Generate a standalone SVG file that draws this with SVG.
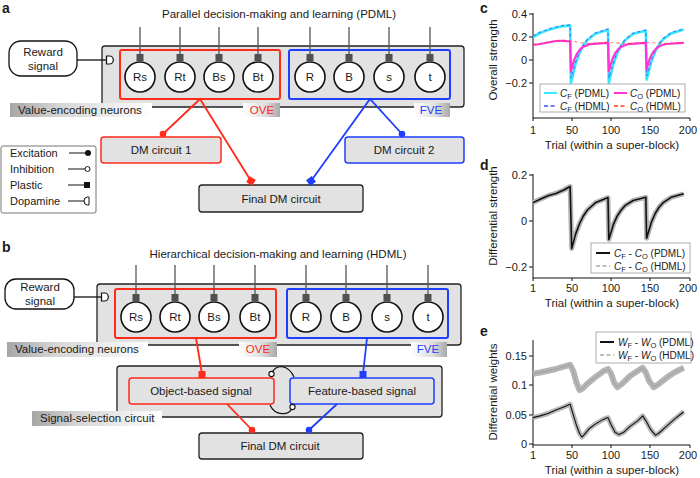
<svg xmlns="http://www.w3.org/2000/svg" width="700" height="478" viewBox="0 0 700 478">
<defs>
<style>
text{font-family:"Liberation Sans",Arial,sans-serif;fill:#1a1a1a}
.t{font-size:11.5px}
.n{font-size:11.5px;text-anchor:middle}
.lt{font-size:11px}
.pl{font-size:14px;font-weight:bold}
.box{fill:#e2e2e2;stroke:#222;stroke-width:1.3}
.cir{fill:#fff;stroke:#111;stroke-width:1.6}
.stem{stroke:#555;stroke-width:1.3}
.sq{fill:#505050}
.red{fill:none;stroke:#ff2a1a;stroke-width:2}
.blue{fill:none;stroke:#1f3fff;stroke-width:2}
.rl{stroke:#ff2a1a;stroke-width:1.8;fill:none}
.bl{stroke:#1f3fff;stroke-width:1.8;fill:none}
.ax{stroke:#111;stroke-width:1;fill:none}
.tk{font-size:11px;text-anchor:end}
.tx{font-size:11px;text-anchor:middle}
.at{font-size:11.5px;text-anchor:middle}
.lg{fill:#fff;stroke:#999;stroke-width:0.8}
.lgt{font-size:10px}
</style>
<linearGradient id="gL" x1="0" x2="1" y1="0" y2="0"><stop offset="0" stop-color="#a6a6a6"/><stop offset="0.35" stop-color="#d6d6d6"/><stop offset="1" stop-color="#ffffff"/></linearGradient>
<linearGradient id="gR" x1="0" x2="1" y1="0" y2="0"><stop offset="0" stop-color="#ffffff"/><stop offset="0.6" stop-color="#dedede"/><stop offset="1" stop-color="#a8a8a8"/></linearGradient>
</defs>

<!-- Panel a -->
<text class="pl" x="2" y="13">a</text>
<text class="t" x="279" y="18" text-anchor="middle">Parallel decision-making and learning (PDML)</text>
<g id="a-reward">
<rect x="9" y="41" width="68" height="35" rx="12" fill="#fff" stroke="#111" stroke-width="1.3"/>
<text class="n" x="43" y="56">Reward</text>
<text class="n" x="43" y="70">signal</text>
</g>
<g id="a-value-neurons">
<rect class="box" x="102" y="46" width="362" height="61" rx="3"/>
<rect class="red" x="120" y="50" width="160" height="49" rx="2"/>
<rect class="blue" x="289" y="50" width="161" height="49" rx="2"/>
</g>
<g id="a-neurons">
<g id="a-Rs"><line class="stem" x1="140" y1="27" x2="140" y2="55"/><rect class="sq" x="136.5" y="54" width="7" height="7"/><circle class="cir" cx="140" cy="77" r="15"/><text class="n" x="140" y="81">Rs</text></g>
<g id="a-Rt"><line class="stem" x1="180" y1="27" x2="180" y2="55"/><rect class="sq" x="176.5" y="54" width="7" height="7"/><circle class="cir" cx="180" cy="77" r="15"/><text class="n" x="180" y="81">Rt</text></g>
<g id="a-Bs"><line class="stem" x1="219" y1="27" x2="219" y2="55"/><rect class="sq" x="215.5" y="54" width="7" height="7"/><circle class="cir" cx="219" cy="77" r="15"/><text class="n" x="219" y="81">Bs</text></g>
<g id="a-Bt"><line class="stem" x1="258" y1="27" x2="258" y2="55"/><rect class="sq" x="254.5" y="54" width="7" height="7"/><circle class="cir" cx="258" cy="77" r="15"/><text class="n" x="258" y="81">Bt</text></g>
<g id="a-R"><line class="stem" x1="310" y1="27" x2="310" y2="55"/><rect class="sq" x="306.5" y="54" width="7" height="7"/><circle class="cir" cx="310" cy="77" r="15"/><text class="n" x="310" y="81">R</text></g>
<g id="a-B"><line class="stem" x1="349" y1="27" x2="349" y2="55"/><rect class="sq" x="345.5" y="54" width="7" height="7"/><circle class="cir" cx="349" cy="77" r="15"/><text class="n" x="349" y="81">B</text></g>
<g id="a-s"><line class="stem" x1="389" y1="27" x2="389" y2="55"/><rect class="sq" x="385.5" y="54" width="7" height="7"/><circle class="cir" cx="389" cy="77" r="15"/><text class="n" x="389" y="81">s</text></g>
<g id="a-t"><line class="stem" x1="430" y1="27" x2="430" y2="55"/><rect class="sq" x="426.5" y="54" width="7" height="7"/><circle class="cir" cx="430" cy="77" r="15"/><text class="n" x="430" y="81">t</text></g>
</g>
<g id="a-labels">
<rect x="10" y="103" width="142" height="14" fill="url(#gL)"/>
<text class="t" x="18" y="114">Value-encoding neurons</text>
<rect x="243" y="103" width="37" height="14" fill="url(#gR)"/>
<text class="t" x="262" y="114" text-anchor="middle" style="fill:#ff2a1a">OVE</text>
<rect x="414" y="103" width="36" height="14" fill="url(#gR)"/>
<text class="t" x="431" y="114" text-anchor="middle" style="fill:#1f3fff">FVE</text>
</g>
<g id="a-dm1"><rect x="101" y="137" width="120" height="26" rx="3" fill="#e2e2e2" stroke="#ff2a1a" stroke-width="1.5"/><text class="n" x="161" y="154">DM circuit 1</text></g>
<g id="a-dm2"><rect x="345" y="137" width="119" height="26" rx="3" fill="#e2e2e2" stroke="#1f3fff" stroke-width="1.5"/><text class="n" x="404" y="154">DM circuit 2</text></g>
<g id="a-final"><rect class="box" x="199" y="185" width="164" height="27" rx="3" stroke-width="1.6"/><text class="n" x="281" y="203">Final DM circuit</text></g>
<g id="a-connectors">
<line x1="77" y1="60" x2="106" y2="60" stroke="#111" stroke-width="1.3"/>
<path d="M106.5 56 L109.5 56 A3.8 4 0 0 1 109.5 64 L106.5 64 Z" fill="#fff" stroke="#111" stroke-width="1.2"/>
<polyline class="rl" points="163,134 200,99 251,181"/>
<circle cx="163" cy="134" r="3.3" fill="#ff2a1a"/>
<rect x="-3.5" y="-3.5" width="7" height="7" fill="#ff2a1a" transform="translate(251,181) rotate(32)"/>
<polyline class="bl" points="402,134 370,99 311,181"/>
<circle cx="402" cy="134" r="3.3" fill="#1f3fff"/>
<rect x="-3.5" y="-3.5" width="7" height="7" fill="#1f3fff" transform="translate(311,181) rotate(-36)"/>
</g>
<g id="legend">
<rect x="1" y="146" width="95" height="67" rx="2" fill="#fff" stroke="#777" stroke-width="1"/>
<text class="lt" x="10" y="157">Excitation</text>
<text class="lt" x="10" y="173">Inhibition</text>
<text class="lt" x="10" y="189">Plastic</text>
<text class="lt" x="10" y="205">Dopamine</text>
<line x1="69" y1="153" x2="87" y2="153" stroke="#111" stroke-width="1"/><circle cx="88" cy="153" r="3" fill="#111"/>
<line x1="68" y1="169" x2="85" y2="169" stroke="#111" stroke-width="1"/><circle cx="87.5" cy="169" r="2.5" fill="#fff" stroke="#111" stroke-width="1"/>
<line x1="68" y1="185" x2="85" y2="185" stroke="#111" stroke-width="1"/><rect x="84" y="182" width="6" height="6" fill="#111"/>
<line x1="68" y1="201" x2="84" y2="201" stroke="#111" stroke-width="1"/>
<path d="M89 197 L87.5 197 A3.5 4 0 0 0 87.5 205 L89 205 Z" fill="#fff" stroke="#111" stroke-width="1"/>
</g>

<!-- Panel b -->
<text class="pl" x="2" y="252">b</text>
<text class="t" x="278" y="258" text-anchor="middle">Hierarchical decision-making and learning (HDML)</text>
<g id="b-reward">
<rect x="5" y="279" width="69" height="30" rx="11" fill="#fff" stroke="#111" stroke-width="1.3"/>
<text class="n" x="40" y="291">Reward</text>
<text class="n" x="40" y="305">signal</text>
</g>
<g id="b-value-neurons">
<rect class="box" x="97" y="284" width="364" height="61" rx="3"/>
<rect class="red" x="115" y="289" width="161" height="49" rx="2"/>
<rect class="blue" x="287" y="289" width="161" height="49" rx="2"/>
</g>
<g id="b-neurons">
<g id="b-Rs"><line class="stem" x1="136" y1="265" x2="136" y2="295"/><rect class="sq" x="132.5" y="294" width="7" height="7"/><circle class="cir" cx="136" cy="317" r="15"/><text class="n" x="136" y="321">Rs</text></g>
<g id="b-Rt"><line class="stem" x1="175" y1="265" x2="175" y2="295"/><rect class="sq" x="171.5" y="294" width="7" height="7"/><circle class="cir" cx="175" cy="317" r="15"/><text class="n" x="175" y="321">Rt</text></g>
<g id="b-Bs"><line class="stem" x1="214" y1="265" x2="214" y2="295"/><rect class="sq" x="210.5" y="294" width="7" height="7"/><circle class="cir" cx="214" cy="317" r="15"/><text class="n" x="214" y="321">Bs</text></g>
<g id="b-Bt"><line class="stem" x1="255" y1="265" x2="255" y2="295"/><rect class="sq" x="251.5" y="294" width="7" height="7"/><circle class="cir" cx="255" cy="317" r="15"/><text class="n" x="255" y="321">Bt</text></g>
<g id="b-R"><line class="stem" x1="306" y1="265" x2="306" y2="295"/><rect class="sq" x="302.5" y="294" width="7" height="7"/><circle class="cir" cx="306" cy="317" r="15"/><text class="n" x="306" y="321">R</text></g>
<g id="b-B"><line class="stem" x1="346" y1="265" x2="346" y2="295"/><rect class="sq" x="342.5" y="294" width="7" height="7"/><circle class="cir" cx="346" cy="317" r="15"/><text class="n" x="346" y="321">B</text></g>
<g id="b-s"><line class="stem" x1="387" y1="265" x2="387" y2="295"/><rect class="sq" x="383.5" y="294" width="7" height="7"/><circle class="cir" cx="387" cy="317" r="15"/><text class="n" x="387" y="321">s</text></g>
<g id="b-t"><line class="stem" x1="428" y1="265" x2="428" y2="295"/><rect class="sq" x="424.5" y="294" width="7" height="7"/><circle class="cir" cx="428" cy="317" r="15"/><text class="n" x="428" y="321">t</text></g>
</g>
<g id="b-labels">
<rect x="7" y="342" width="141" height="15" fill="url(#gL)"/>
<text class="t" x="15" y="353">Value-encoding neurons</text>
<rect x="239" y="342" width="38" height="15" fill="url(#gR)"/>
<text class="t" x="258" y="353" text-anchor="middle" style="fill:#ff2a1a">OVE</text>
<rect x="411" y="342" width="36" height="15" fill="url(#gR)"/>
<text class="t" x="428" y="353" text-anchor="middle" style="fill:#1f3fff">FVE</text>
</g>
<g id="b-selection">
<rect class="box" x="117" y="366" width="325" height="51" rx="3"/>
<rect x="32" y="411" width="130" height="15" fill="url(#gL)"/>
<text class="t" x="40" y="422">Signal-selection circuit</text>
</g>
<g id="b-object"><rect x="129" y="378" width="145" height="26" rx="3" fill="#e2e2e2" stroke="#ff2a1a" stroke-width="1.5"/><text class="n" x="201" y="395">Object-based signal</text></g>
<g id="b-feature"><rect x="290" y="378" width="144" height="26" rx="3" fill="#e2e2e2" stroke="#1f3fff" stroke-width="1.5"/><text class="n" x="362" y="395">Feature-based signal</text></g>
<g id="b-final"><rect class="box" x="199" y="433" width="164" height="26" rx="3" stroke-width="1.6"/><text class="n" x="280" y="450">Final DM circuit</text></g>
<g id="b-connectors">
<line x1="74" y1="297" x2="101" y2="297" stroke="#111" stroke-width="1.3"/>
<path d="M101.5 293 L104.5 293 A3.8 4 0 0 1 104.5 301 L101.5 301 Z" fill="#fff" stroke="#111" stroke-width="1.2"/>
<line class="rl" x1="196" y1="338" x2="202" y2="374"/>
<rect x="198.5" y="371" width="7" height="7" fill="#ff2a1a"/>
<line class="bl" x1="367" y1="338" x2="363" y2="374"/>
<rect x="359.5" y="371" width="7" height="7" fill="#1f3fff"/>
<path d="M272 373 C276 364 288 364 294 377" fill="none" stroke="#111" stroke-width="1.2"/>
<circle cx="271.5" cy="374" r="2.6" fill="#fff" stroke="#111" stroke-width="1.1"/>
<path d="M270 405 C275 416 289 416 292 408" fill="none" stroke="#111" stroke-width="1.2"/>
<circle cx="292.5" cy="407" r="2.6" fill="#fff" stroke="#111" stroke-width="1.1"/>
<line class="rl" x1="227" y1="404" x2="252" y2="430"/>
<circle cx="252" cy="430" r="3.3" fill="#ff2a1a"/>
<line class="bl" x1="337" y1="404" x2="309" y2="430"/>
<circle cx="309" cy="430" r="3.3" fill="#1f3fff"/>
</g>

<!-- Panel c -->
<g id="panel-c">
<text class="pl" x="480" y="13">c</text>
<path class="ax" d="M533 13 V118 H690"/>
<path class="ax" d="M529 14 H533 M529 37 H533 M529 60 H533 M529 83 H533 M533 118 V121 M572 118 V121 M611 118 V121 M650 118 V121 M690 118 V121"/>
<text class="tk" x="527" y="18">0.4</text>
<text class="tk" x="527" y="41">0.2</text>
<text class="tk" x="527" y="64">0</text>
<text class="tk" x="527" y="87">−0.2</text>
<text class="tx" x="533" y="134">1</text><text class="tx" x="572" y="134">50</text><text class="tx" x="611" y="134">100</text><text class="tx" x="650" y="134">150</text><text class="tx" x="688" y="134">200</text>
<text class="at" x="612" y="149">Trial (within a super-block)</text>
<text class="at" transform="translate(497,60) rotate(-90)">Overall strength</text>
<polyline fill="none" stroke="#33e8ff" stroke-width="2.6" stroke-linejoin="round" points="533,37 540.1,33 548,30.1 555.9,27.8 563.8,26.1 570.1,25.5 570.9,83 575.6,63.8 579.6,53 583.5,45.4 587.4,40.1 595.3,33.8 608,29.8 608.8,83 613.5,63.8 617.4,53 621.4,45.4 625.3,40.1 633.2,33.8 645.8,30.7 646.6,79.6 651.4,61.5 655.3,51.4 659.2,44.4 663.2,39.3 671.1,33.4 683.7,29.6"/>
<polyline fill="none" stroke="#3a4cff" stroke-width="1.2" stroke-dasharray="3,3" opacity="0.7" points="533,36 540.1,32 548,29.3 555.9,27 563.8,25.4 570.1,24.8 570.9,78 575.6,62 579.6,51.5 583.5,44.5 587.4,39.2 595.3,33 608,29 608.8,78 613.5,62 617.4,51.5 621.4,44.5 625.3,39.2 633.2,33 645.8,30 646.6,76 651.4,60 655.3,50.5 659.2,43.5 663.2,38.5 671.1,32.6 683.7,28.8"/>
<polyline fill="none" stroke="#ff33d6" stroke-width="2.2" stroke-linejoin="round" points="533,45 540.1,44 548,42.5 555.9,41 563.8,40.8 570.1,41.5 570.9,71.5 574,60.2 577.2,53.3 580.3,49.2 583.5,46.6 589.8,44.2 608,42.8 608.8,71.5 612,60.2 615.1,53.3 618.3,49.2 621.4,46.6 627.7,44.2 645.8,42.8 646.6,69.2 649.8,58.5 652.9,52.5 656.1,48.7 659.2,46.3 665.5,44 683.7,42.8"/>
<polyline fill="none" stroke="#ff3b1a" stroke-width="1.1" stroke-dasharray="3,3" opacity="0.6" points="533,44.5 540.1,43.5 548,42 555.9,40.5 563.8,40.3 570.1,41 589.8,43.7 608,42.3 627.7,43.7 645.8,42.3 665.5,43.5 683.7,42.3"/>
<rect class="lg" x="540" y="84" width="145" height="28"/>
<line x1="544" y1="93" x2="557" y2="93" stroke="#33e8ff" stroke-width="2"/>
<text class="lgt" x="560" y="97"><tspan font-style="italic">C</tspan><tspan font-size="7.5" dy="2">F</tspan><tspan dy="-2"> (PDML)</tspan></text>
<line x1="614" y1="93" x2="627" y2="93" stroke="#ff33d6" stroke-width="2"/>
<text class="lgt" x="630" y="97"><tspan font-style="italic">C</tspan><tspan font-size="7.5" dy="2">O</tspan><tspan dy="-2"> (PDML)</tspan></text>
<line x1="544" y1="106" x2="557" y2="106" stroke="#3a4cff" stroke-width="1.6" stroke-dasharray="4,2.5"/>
<text class="lgt" x="560" y="110"><tspan font-style="italic">C</tspan><tspan font-size="7.5" dy="2">F</tspan><tspan dy="-2"> (HDML)</tspan></text>
<line x1="614" y1="106" x2="627" y2="106" stroke="#ff3b1a" stroke-width="1.6" stroke-dasharray="4,2.5"/>
<text class="lgt" x="630" y="110"><tspan font-style="italic">C</tspan><tspan font-size="7.5" dy="2">O</tspan><tspan dy="-2"> (HDML)</tspan></text>
</g>

<!-- Panel d -->
<g id="panel-d">
<text class="pl" x="480" y="170">d</text>
<path class="ax" d="M533 174 V278 H690"/>
<path class="ax" d="M529 175 H533 M529 221 H533 M529 267 H533 M533 278 V281 M572 278 V281 M611 278 V281 M650 278 V281 M690 278 V281"/>
<text class="tk" x="527" y="179">0.2</text>
<text class="tk" x="527" y="225">0</text>
<text class="tk" x="527" y="271">−0.2</text>
<text class="tx" x="533" y="292">1</text><text class="tx" x="572" y="292">50</text><text class="tx" x="611" y="292">100</text><text class="tx" x="650" y="292">150</text><text class="tx" x="688" y="292">200</text>
<text class="at" x="612" y="307">Trial (within a super-block)</text>
<text class="at" transform="translate(497,216) rotate(-90)">Differential strength</text>
<polyline fill="none" stroke="#b5b5b5" stroke-width="5" stroke-linejoin="round" points="533,202.6 540.1,199.2 548,195.7 555.9,193.4 563.8,190 570.1,186.5 571.7,248.6 575.6,234.1 579.6,223.5 583.5,215.7 587.4,210 595.3,202.8 608,197.5 608.8,239.4 613.5,224.2 617.4,215.7 621.4,209.7 625.3,205.4 633.2,200.5 645.8,197.3 646.6,238.3 651.4,222.2 655.3,213.2 659.2,207 663.2,202.6 671.1,197.3 683.7,193.8"/>
<polyline fill="none" stroke="#111" stroke-width="1.6" stroke-linejoin="round" points="533,202.6 540.1,199.2 548,195.7 555.9,193.4 563.8,190 570.1,186.5 571.7,248.6 575.6,234.1 579.6,223.5 583.5,215.7 587.4,210 595.3,202.8 608,197.5 608.8,239.4 613.5,224.2 617.4,215.7 621.4,209.7 625.3,205.4 633.2,200.5 645.8,197.3 646.6,238.3 651.4,222.2 655.3,213.2 659.2,207 663.2,202.6 671.1,197.3 683.7,193.8"/>
<rect class="lg" x="591" y="243" width="99" height="30"/>
<line x1="596" y1="253" x2="610" y2="253" stroke="#111" stroke-width="2"/>
<text class="lgt" x="614" y="257"><tspan font-style="italic">C</tspan><tspan font-size="7.5" dy="2">F</tspan><tspan dy="-2"> - </tspan><tspan font-style="italic">C</tspan><tspan font-size="7.5" dy="2">O</tspan><tspan dy="-2"> (PDML)</tspan></text>
<line x1="596" y1="266" x2="610" y2="266" stroke="#aaa" stroke-width="1.6" stroke-dasharray="4,2.5"/>
<text class="lgt" x="614" y="270"><tspan font-style="italic">C</tspan><tspan font-size="7.5" dy="2">F</tspan><tspan dy="-2"> - </tspan><tspan font-style="italic">C</tspan><tspan font-size="7.5" dy="2">O</tspan><tspan dy="-2"> (HDML)</tspan></text>
</g>

<!-- Panel e -->
<g id="panel-e">
<text class="pl" x="480" y="336">e</text>
<path class="ax" d="M533 340 V445 H690"/>
<path class="ax" d="M529 356 H533 M529 385 H533 M529 415 H533 M529 444 H533 M533 445 V448 M572 445 V448 M611 445 V448 M650 445 V448 M690 445 V448"/>
<text class="tk" x="527" y="360">0.15</text>
<text class="tk" x="527" y="389">0.1</text>
<text class="tk" x="527" y="419">0.05</text>
<text class="tk" x="527" y="448">0</text>
<text class="tx" x="533" y="459">1</text><text class="tx" x="572" y="459">50</text><text class="tx" x="611" y="459">100</text><text class="tx" x="650" y="459">150</text><text class="tx" x="688" y="459">200</text>
<text class="at" x="612" y="474">Trial (within a super-block)</text>
<text class="at" transform="translate(497,392) rotate(-90)">Differential weights</text>
<polyline fill="none" stroke="#b5b5b5" stroke-width="6" stroke-linejoin="round" points="533,373.7 540.1,372.5 548,370.8 555.9,369 563.8,366.6 570.1,364.9 573.2,370.8 576.4,382.5 579.6,390 582.7,388.3 587.4,383.6 595.3,377.2 603.2,371.3 608,369 611.1,373.7 614.3,383 617.4,387.2 622.2,383.6 630,376 637.9,370.8 642.7,367.8 645.8,372.5 649,380.7 653.7,387.2 658.5,384.2 666.4,377.8 674.2,372.5 683.7,367.8"/>
<polyline fill="none" stroke="#a0a0a0" stroke-width="1" stroke-linejoin="round" points="533,373.7 540.1,372.5 548,370.8 555.9,369 563.8,366.6 570.1,364.9 573.2,370.8 576.4,382.5 579.6,390 582.7,388.3 587.4,383.6 595.3,377.2 603.2,371.3 608,369 611.1,373.7 614.3,383 617.4,387.2 622.2,383.6 630,376 637.9,370.8 642.7,367.8 645.8,372.5 649,380.7 653.7,387.2 658.5,384.2 666.4,377.8 674.2,372.5 683.7,367.8"/>
<polyline fill="none" stroke="#b8b8b8" stroke-width="5" stroke-linejoin="round" points="533,417.6 540.1,415.9 548,413.5 555.9,410 563.8,407.1 570.1,404.2 573.2,414.7 576.4,425.2 579.6,433.5 581.9,437 584.3,434.6 589,428.8 595.3,424.1 603.2,419.4 608,417.6 611.1,424.7 615.1,432.3 619,434.6 623.7,432.3 630,426.4 637.9,420.6 642.7,415.9 645.8,420.6 650.6,429.4 655.3,435.2 658.5,433.5 666.4,426.4 674.2,419.4 683.7,411.8"/>
<polyline fill="none" stroke="#111" stroke-width="1.1" stroke-linejoin="round" points="533,417.6 540.1,415.9 548,413.5 555.9,410 563.8,407.1 570.1,404.2 573.2,414.7 576.4,425.2 579.6,433.5 581.9,437 584.3,434.6 589,428.8 595.3,424.1 603.2,419.4 608,417.6 611.1,424.7 615.1,432.3 619,434.6 623.7,432.3 630,426.4 637.9,420.6 642.7,415.9 645.8,420.6 650.6,429.4 655.3,435.2 658.5,433.5 666.4,426.4 674.2,419.4 683.7,411.8"/>
<rect class="lg" x="596" y="332" width="95" height="31"/>
<line x1="600" y1="342" x2="614" y2="342" stroke="#111" stroke-width="2"/>
<text class="lgt" x="618" y="346"><tspan font-style="italic">W</tspan><tspan font-size="7.5" dy="2">F</tspan><tspan dy="-2"> - </tspan><tspan font-style="italic">W</tspan><tspan font-size="7.5" dy="2">O</tspan><tspan dy="-2"> (PDML)</tspan></text>
<line x1="600" y1="355" x2="614" y2="355" stroke="#aaa" stroke-width="1.6" stroke-dasharray="4,2.5"/>
<text class="lgt" x="618" y="359"><tspan font-style="italic">W</tspan><tspan font-size="7.5" dy="2">F</tspan><tspan dy="-2"> - </tspan><tspan font-style="italic">W</tspan><tspan font-size="7.5" dy="2">O</tspan><tspan dy="-2"> (HDML)</tspan></text>
</g>
</svg>
